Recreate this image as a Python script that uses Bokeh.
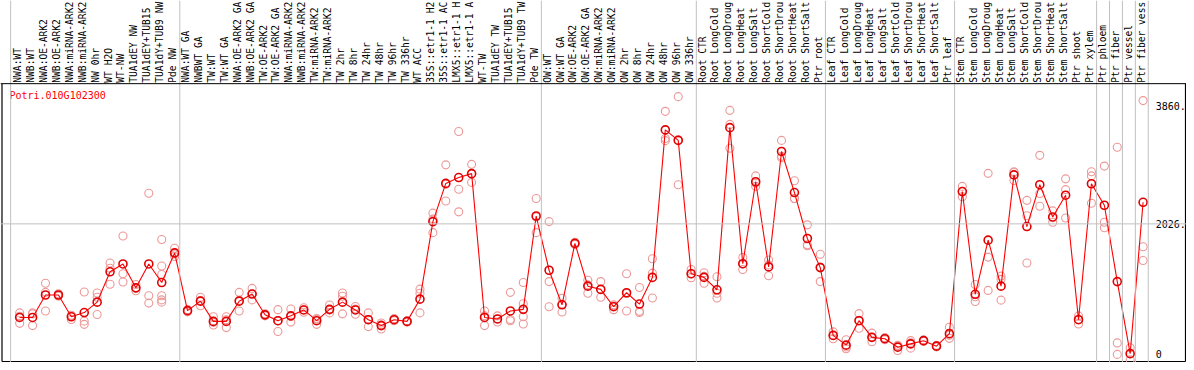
import math
from bokeh.plotting import figure
from bokeh.models import Range1d, Span
from bokeh.core.properties import value
from bokeh.embed import file_html
from bokeh.resources import INLINE

gene_id = "Potri.010G102300"

# category labels as shown (the chart cuts them to 14 characters)
categories = [
    "NWA:WT", "NWB:WT", "NWA:OE-ARK2", "NWB:OE-ARK2", "NWA:miRNA-ARK2", "NWB:miRNA-ARK2",
    "NW 0hr", "WT H2O", "WT-NW", "TUA1dEY NW", "TUA1dEY+TUB15", "TUA1dY+TUB9 NW", "Pde NW",
    "NWA:WT GA", "NWBWT GA", "TW:WT", "TW:WT GA", "NWA:OE-ARK2 GA", "NWB:OE-ARK2 GA",
    "TW:OE-ARK2", "TW:OE-ARK2 GA", "NWA:miRNA-ARK2", "NWB:miRNA-ARK2", "TW:miRNA-ARK2",
    "TW:miRNA-ARK2", "TW 2hr", "TW 8hr", "TW 24hr", "TW 48hr", "TW 96hr", "TW 336hr",
    "WT ACC", "35S::etr1-1 H2", "35S::etr1-1 AC", "LMX5::etr1-1 H", "LMX5::etr1-1 A",
    "WT-TW", "TUA1dEY TW", "TUA1dEY+TUB15", "TUA1dY+TUB9 TW", "Pde TW",
    "OW:WT", "OW:WT GA", "OW:OE-ARK2", "OW:OE-ARK2 GA", "OW:miRNA-ARK2", "OW:miRNA-ARK2",
    "OW 2hr", "OW 8hr", "OW 24hr", "OW 48hr", "OW 96hr", "OW 336hr",
    "Root CTR", "Root LongCold", "Root LongDroug", "Root LongHeat", "Root LongSalt",
    "Root ShortCold", "Root ShortDrou", "Root ShortHeat", "Root ShortSalt", "Ptr root",
    "Leaf CTR", "Leaf LongCold", "Leaf LongDroug", "Leaf LongHeat", "Leaf LongSalt",
    "Leaf ShortCold", "Leaf ShortDrou", "Leaf ShortHeat", "Leaf ShortSalt", "Ptr leaf",
    "Stem CTR", "Stem LongCold", "Stem LongDroug", "Stem LongHeat", "Stem LongSalt",
    "Stem ShortCold", "Stem ShortDrou", "Stem ShortHeat", "Stem ShortSalt", "Ptr shoot",
    "Ptr xylem", "Ptr phloem", "Ptr fiber", "Ptr vessel", "Ptr fiber vess",
]

group_sizes = [13, 28, 12, 10, 10, 11, 1, 1, 1, 1]

mean_values = [
    573, 573, 922, 922, 583, 649, 811, 1282, 1404, 1033, 1404, 1115, 1575,
    679, 826, 512, 512, 826, 937, 614, 523, 598, 690, 523, 699, 811, 690, 538, 447, 538,
    512, 857, 2061, 2654, 2745, 2806, 573, 550, 674, 699, 2148,
    1306, 770, 1723, 1059, 1009, 740, 957, 781, 1195, 3485, 3322, 1252,
    1195, 1003, 3520, 1408, 2680, 1358, 3150, 2512, 1799, 1347,
    295, 143, 523, 264, 243, 112, 163, 213, 128, 322,
    2528, 933, 1773, 1059, 2786, 1985, 2634, 2133, 2471, 538, 2649,
    2315, 1130, 11, 2361,
]

replicates = [
    [644, 593, 482], [644, 628, 447], [1104, 963, 674], [905, 922, 940],
    [608, 599, 542], [968, 516, 466], [952, 887, 618], [1419, 1338, 1089],
    [1838, 1252, 1124], [1085, 1027, 987], [2502, 911, 796],
    [1783, 1373, 1241, 911, 846, 811], [1647, 1559, 1519],
    [694, 683, 660], [887, 836, 755], [583, 497, 456], [583, 537, 416],
    [963, 841, 674], [1024, 941, 846], [630, 614, 598], [694, 520, 355],
    [705, 588, 501], [725, 692, 653], [557, 546, 466], [766, 687, 644],
    [952, 902, 629], [744, 703, 623], [644, 539, 431], [486, 460, 395],
    [555, 538, 521], [520, 515, 501], [1013, 948, 644], [2193, 2100, 1890],
    [2942, 2640, 2380], [3459, 2563, 2213], [2950, 2800, 2670], [674, 598, 447],
    [598, 550, 502], [963, 542, 523], [1115, 785, 583, 471], [2421, 2133, 1890],
    [2061, 1130, 740], [872, 779, 659], [1740, 1723, 1706], [1150, 1079, 948],
    [1130, 1010, 887], [770, 756, 694], [1252, 945, 674], [1039, 668, 649],
    [1484, 1261, 876], [3773, 3352, 3318], [4001, 3331, 2634], [1317, 1248, 1191],
    [1267, 1214, 1104], [1206, 948, 876], [3788, 3570, 3200], [1504, 1403, 1317],
    [2771, 2661, 2608], [1464, 1389, 1221], [3322, 3074, 3054], [2695, 2420, 2421],
    [2011, 1700, 1686], [1555, 1356, 1130],
    [349, 293, 243], [228, 114, 87], [633, 530, 406], [330, 265, 197],
    [260, 243, 226], [140, 135, 61], [213, 179, 97], [225, 213, 201],
    [140, 128, 116], [421, 296, 249],
    [2608, 2530, 2446], [1085, 894, 820], [2810, 1510, 993], [1215, 1165, 842],
    [2836, 2823, 2699], [2391, 2152, 1419], [3090, 2497, 2300], [2228, 2120, 2051],
    [2725, 2558, 2117], [598, 545, 471], [2836, 2771, 2345],
    [2923, 2051, 1966], [3216, 178, 0], [102, 11, -85], [3940, 1671, 1458],
]

tick_values = [0, 2026, 3860]
tick_labels = ["0", "2026.", "3860."]

# ---- layout helpers (reference-pixel geometry -> data coordinates) ----
PX0, PX_STEP = 19.3, 13.0            # x pixel of first category, pixel step
Y0_PX, PX_PER_UNIT = 361.7, 0.06584  # pixel row of value 0, pixels per unit


def ref_x(px):
    return (px - PX0) / PX_STEP


def ref_y(px):
    return (Y0_PX - px) / PX_PER_UNIT


W, H = 1186, 362
FONT = value("DejaVu Sans Mono")

p = figure(width=W, height=H, output_backend="svg", toolbar_location=None,
           x_range=Range1d(ref_x(0), ref_x(1194)), y_range=Range1d(ref_y(370), ref_y(0)),
           x_axis_location=None, y_axis_location=None, min_border=0)
p.min_border_left = p.min_border_right = p.min_border_top = p.min_border_bottom = 0
p.grid.visible = False
p.outline_line_color = None
p.background_fill_color = "white"
p.border_fill_color = "white"

GRAY = "#c0c0c0"

# group separators
seps = [-0.7]
end = -1
for g in group_sizes:
    end += g
    seps.append(end + 0.4)
for s in seps:
    p.add_layout(Span(location=s, dimension="height", line_color=GRAY, line_width=1))

# horizontal grid line at middle tick
p.add_layout(Span(location=tick_values[1], dimension="width", line_color=GRAY, line_width=1))

# frame lines
top_y, bot_y = ref_y(85), ref_y(369)
left_x, right_x = ref_x(1.5), ref_x(1193)
p.add_layout(Span(location=top_y, dimension="width", line_color="black", line_width=1))
p.segment(x0=[left_x, left_x, right_x], y0=[bot_y, bot_y, bot_y],
          x1=[right_x, left_x, right_x], y1=[bot_y, top_y, top_y],
          line_color="black", line_width=1.2)

# category labels (rotated, reading upwards from just above the frame)
xs = list(range(len(categories)))
p.text(x=xs, y=[ref_y(84.0)] * len(xs), text=categories, angle=math.pi / 2,
       text_align="left", text_baseline="middle", text_font=FONT,
       text_font_size="9.6px", text_color="black", x_offset=-2)

# replicate points
rx, ry = [], []
for i, reps in enumerate(replicates):
    for v in reps:
        rx.append(i)
        ry.append(v)
p.scatter(rx, ry, marker="circle", size=8, fill_color=None,
          line_color="#ec9898", line_width=1.1)

# mean line and points
p.line(xs, mean_values, line_color="#ff0000", line_width=1.1)
p.scatter(xs, mean_values, marker="circle", size=8, fill_color=None,
          line_color="#e00000", line_width=1.6)

# gene id
p.text(x=[ref_x(9)], y=[ref_y(97)], text=[gene_id], text_align="left",
       text_baseline="middle", text_font=FONT, text_font_size="10px",
       text_color="#ff0000")

# right-hand tick labels
p.text(x=[ref_x(1163)] * len(tick_values), y=tick_values, text=tick_labels,
       text_align="left", text_baseline="middle", text_font=FONT,
       text_font_size="10px", text_color="black")

open("out.html", "w").write(file_html(p, INLINE))
